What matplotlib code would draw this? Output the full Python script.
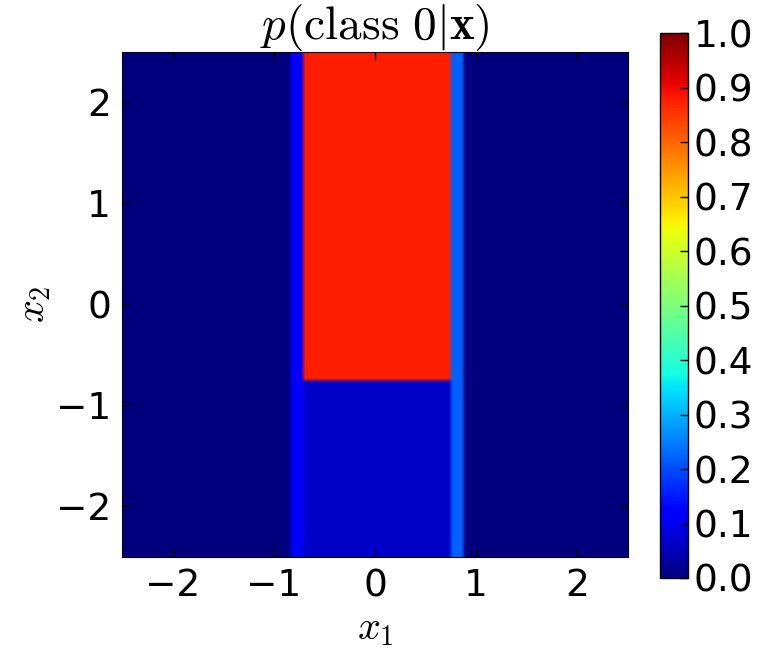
import numpy as np
import matplotlib
matplotlib.use("Agg")
import matplotlib.pyplot as plt

plt.rcParams['mathtext.fontset'] = 'cm'
plt.rcParams['font.family'] = ['DejaVu Sans']

# Region boundaries
x_edges = [-0.83, -0.70, 0.75, 0.87]   # vertical split positions on x1
y_split = -0.75                         # horizontal split on x2 in the middle band
# probabilities of class 0 for each region
p_outer = 0.0      # far left / far right
p_left_strip = 0.11
p_mid_upper = 0.875
p_mid_lower = 0.065
p_right_strip = 0.22

extent = [-2.5, 2.5, -2.5, 2.5]
n = 120
xs = np.linspace(extent[0], extent[1], n)
ys = np.linspace(extent[2], extent[3], n)
X, Y = np.meshgrid(xs, ys)
Z = np.full_like(X, p_outer)
Z[(X >= x_edges[0]) & (X < x_edges[1])] = p_left_strip
mid = (X >= x_edges[1]) & (X < x_edges[2])
Z[mid & (Y >= y_split)] = p_mid_upper
Z[mid & (Y < y_split)] = p_mid_lower
Z[(X >= x_edges[2]) & (X < x_edges[3])] = p_right_strip

fig = plt.figure(figsize=(7.65, 6.49), dpi=100)
ax = fig.add_axes([0.1595, 0.1418, 0.6614, 0.7781])
im = ax.imshow(Z, origin='lower', extent=extent, cmap='jet', vmin=0, vmax=1,
               interpolation='bilinear', interpolation_stage='rgba',
               aspect='auto')
ax.set_xticks([-2, -1, 0, 1, 2])
ax.set_yticks([-2, -1, 0, 1, 2])
ax.set_xticklabels(['\u22122', '\u22121', '0', '1', '2'])
ax.set_yticklabels(['\u22122', '\u22121', '0', '1', '2'])
ax.tick_params(direction='in', top=True, right=True, length=6, width=1,
               labelsize=27, pad=8)
ax.set_xlabel(r'$x_1$', fontsize=29, labelpad=3)
ax.set_ylabel(r'$x_2$', fontsize=29, labelpad=2)
ax.set_title(r'$p(\mathrm{class\ 0}|\mathbf{x})$', fontsize=34, pad=9)

cax = fig.add_axes([0.8627, 0.1094, 0.0366, 0.8396])
cb = fig.colorbar(im, cax=cax, ticks=np.arange(0, 1.01, 0.1))
cb.ax.set_yticklabels([f'{t:.1f}' for t in np.arange(0, 1.01, 0.1)])
cb.ax.tick_params(direction='in', length=6, width=1, labelsize=27, pad=4)
cb.outline.set_linewidth(1)

fig.savefig('out.png', dpi=100)
